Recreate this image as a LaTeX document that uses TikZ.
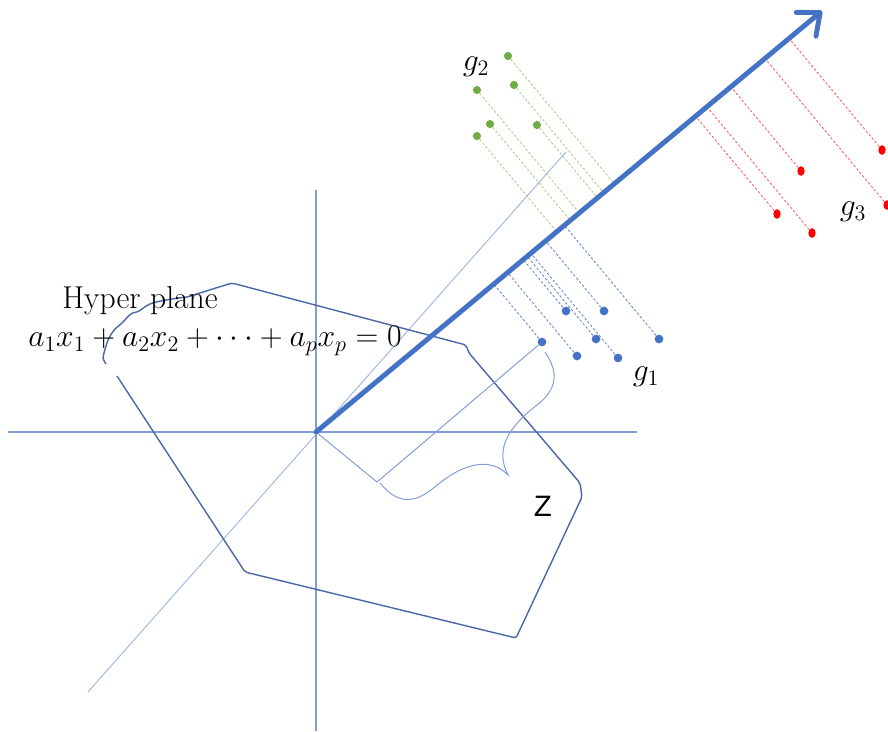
\documentclass[tikz,border=0pt]{standalone}
\usepackage{amsmath,amssymb}
\usepackage{fix-cm}
\usepackage{fontspec}
\setsansfont{Liberation Sans}
\usepackage{tikz}
\usetikzlibrary{arrows.meta,calc,shapes.geometric}

\definecolor{officeblue}{HTML}{4472C4}
\definecolor{axisblue}{HTML}{7F9ED6}
\definecolor{diagblue}{HTML}{A4B8E0}
\definecolor{planeblue}{HTML}{4C67A8}
\definecolor{dotgreen}{HTML}{70AD47}
\definecolor{dashgreen}{HTML}{A9CD84}
\definecolor{dotred}{HTML}{FF0000}
\definecolor{dashred}{HTML}{FF5A5A}

\begin{document}
\begin{tikzpicture}[
   x=0.025cm,y=-0.025cm,
   axisline/.style={line width=0.9pt,axisblue},
   diagline/.style={line width=0.7pt,diagblue},
   plane/.style={line width=1pt,planeblue,line join=round},
   helper/.style={line width=0.7pt,axisblue},
   dot/.style={circle,inner sep=0pt,minimum size=6.2pt},
   bluedot/.style={dot,fill=officeblue},
   greendot/.style={dot,fill=dotgreen,minimum size=5.8pt},
   reddot/.style={ellipse,inner sep=0pt,minimum width=5.2pt,
      minimum height=6.8pt,fill=dotred},
   projdash/.style={line width=0.6pt,dash pattern=on 1.8pt off 1.4pt},
   bluedash/.style={projdash,officeblue!85},
   greendash/.style={projdash,dashgreen},
   reddash/.style={projdash,dashred},
   mainarrow/.style={line width=3.5pt,officeblue,line cap=round,
      -{Straight Barb[length=13pt,width=22pt,round]}},
   lbl/.style={font=\fontsize{22.5}{27}\selectfont,inner sep=0pt}
]
   \useasboundingbox (0,0) rectangle (888,731);
   \coordinate (O) at (316,432);
   \coordinate (T) at (822,11);

   % axes
   \draw[axisline] (8,432) -- (637,432);
   \draw[axisline] (316,190) -- (316,731);
   \draw[diagline] (88,692) -- (566,152);

   % hyper plane
   \draw[plane,rounded corners=1.5pt] (117,376) -- (245,572) -- (516,638)
      -- (582,497) -- (580,483) -- (469,353) -- (466,345) -- (232,283)
      -- (187,297);
   \draw[plane] plot[smooth,tension=0.7] coordinates {(187,297) (166,300)
      (150,304) (139,311) (131,314) (122,323) (115,329) (109,338) (106,346)
      (104,353) (103,358) (106,364)};

   % projections
   \foreach \i/\x/\y in {1/566/311,2/604/311,3/596/339,4/659/339,5/542/342,
      6/577/356,7/618/358} {
      \node[bluedot] (b\i) at (\x,\y) {};
      \coordinate (pb\i) at ($(O)!(b\i)!(T)$);
      \draw[bluedash] (b\i) -- (pb\i);
   }
   \foreach \i/\x/\y in {1/508/56,2/477/90,3/514/85,4/490/124,5/537/125,
      6/477/136} {
      \node[greendot] (g\i) at (\x,\y) {};
      \coordinate (pg\i) at ($(O)!(g\i)!(T)$);
      \draw[greendash] (g\i) -- (pg\i);
   }
   \foreach \i/\x/\y in {1/882/150,2/801/171,3/887/205,4/777/214,5/812/233} {
      \node[reddot] (r\i) at (\x,\y) {};
      \coordinate (pr\i) at ($(O)!(r\i)!(T)$);
      \draw[reddash] (r\i) -- (pr\i);
   }

   % distance Z
   \coordinate (zc) at (377,482);
   \draw[helper] (O) -- (zc) -- (b5);
   \draw[helper] (380,483) .. controls (399,506) and (416,503) .. (436,486)
      .. controls (462,464) and (490,456) .. (508,475)
      .. controls (494,448) and (510,426) .. (537,405)
      .. controls (556,390) and (560,374) .. (545,352);

   \draw[mainarrow] (O) -- (T);

   \node[lbl] (hp) at (140,301) {Hyper plane};
   \node[lbl] (eq) at (215,341) {$a_1x_1+a_2x_2+\cdots+a_px_p=0$};
   \node[lbl] (lg1) at (646,377) {$g_1$};
   \node[lbl] (lg2) at (476,67) {$g_2$};
   \node[lbl] (lg3) at (853,212) {$g_3$};
   \node[lbl,font=\fontsize{21}{25}\selectfont\sffamily] (lz) at (543,506) {Z};
\end{tikzpicture}
\end{document}
